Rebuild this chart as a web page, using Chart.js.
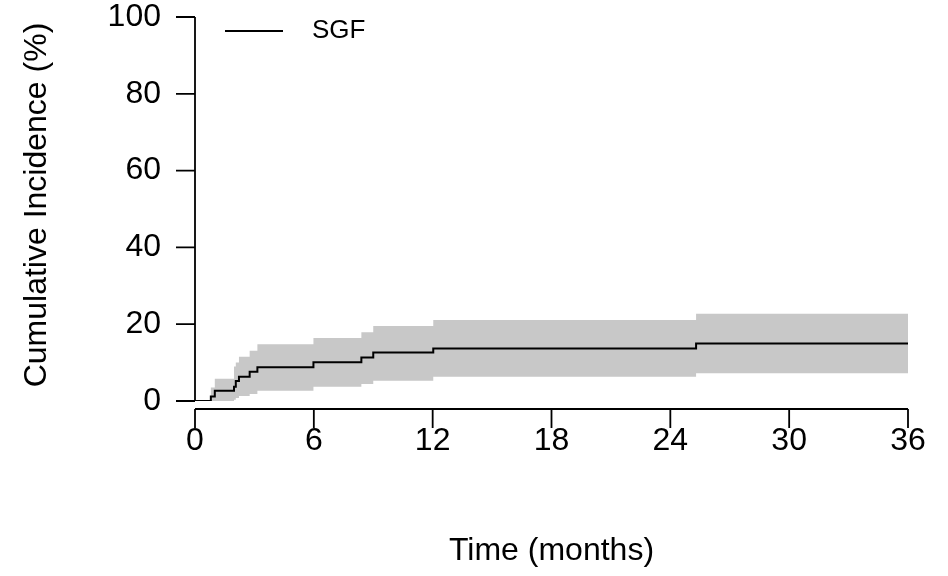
<!DOCTYPE html>
<html>
<head>
<meta charset="utf-8">
<script src="https://cdn.jsdelivr.net/npm/chart.js@4"></script>
<style>
  html, body { margin: 0; padding: 0; background: #ffffff; }
  #wrap { width: 948px; height: 576px; }
</style>
</head>
<body>
<div id="wrap"><canvas id="chart" width="948" height="576"></canvas></div>
<script>
// ── Data ───────────────────────────────────────────────────────────────────
// Step times in months; each value holds from that time onwards.
const TIMES    = [0, 0.8, 1.0, 1.97, 2.06, 2.22, 2.76, 3.15, 5.98, 8.4, 9.0, 12.03, 25.3, 36];
const ESTIMATE = [0, 1.2, 2.7, 3.7, 5.2, 6.3, 7.6, 8.8, 10.1, 11.3, 12.6, 13.7, 15.0, 15.0];
const LOWER    = [0, 0.0, 0.0, 0.3, 0.8, 1.3, 1.8, 2.7, 3.7, 4.4, 5.3, 6.3, 7.2, 7.2];
const UPPER    = [0, 3.5, 5.8, 9.0, 10.0, 11.5, 13.1, 14.8, 16.4, 17.9, 19.5, 21.1, 22.7, 22.7];

const X_TICKS = [0, 6, 12, 18, 24, 30, 36];
const Y_TICKS = [0, 20, 40, 60, 80, 100];

const SERIES_LABEL = "SGF";
const X_TITLE = "Time (months)";
const Y_TITLE = "Cumulative Incidence (%)";

const FONT = '"Liberation Sans", Arial, Helvetica, sans-serif';
const BAND_COLOR = "#c8c8c8";

function points(values) {
  return TIMES.map((t, i) => ({ x: t, y: values[i] }));
}

// ── Axes, titles and legend drawn R-style (offset x axis, outward ticks) ─────
const baseAxes = {
  id: "baseAxes",
  afterDraw(chart) {
    const { ctx, chartArea, scales } = chart;
    const xs = scales.x, ys = scales.y;
    const tickLen = 19;
    const xAxisY = chartArea.bottom + 8;

    ctx.save();
    ctx.strokeStyle = "#000";
    ctx.fillStyle = "#000";
    ctx.lineWidth = 1.8;

    // y axis
    ctx.beginPath();
    ctx.moveTo(chartArea.left, ys.getPixelForValue(Y_TICKS[0]));
    ctx.lineTo(chartArea.left, ys.getPixelForValue(Y_TICKS[Y_TICKS.length - 1]));
    Y_TICKS.forEach(v => {
      const y = ys.getPixelForValue(v);
      ctx.moveTo(chartArea.left, y);
      ctx.lineTo(chartArea.left - tickLen, y);
    });
    ctx.stroke();

    // x axis
    ctx.beginPath();
    ctx.moveTo(xs.getPixelForValue(X_TICKS[0]), xAxisY);
    ctx.lineTo(xs.getPixelForValue(X_TICKS[X_TICKS.length - 1]), xAxisY);
    X_TICKS.forEach(v => {
      const x = xs.getPixelForValue(v);
      ctx.moveTo(x, xAxisY);
      ctx.lineTo(x, xAxisY + tickLen);
    });
    ctx.stroke();

    // tick labels
    ctx.font = "32px " + FONT;
    ctx.textBaseline = "middle";
    ctx.textAlign = "right";
    Y_TICKS.forEach(v => {
      ctx.fillText(String(v), chartArea.left - 34, ys.getPixelForValue(v));
    });
    ctx.textAlign = "center";
    X_TICKS.forEach(v => {
      ctx.fillText(String(v), xs.getPixelForValue(v), xAxisY + 32);
    });

    // axis titles
    ctx.font = "32px " + FONT;
    ctx.fillText(X_TITLE, (chartArea.left + chartArea.right) / 2, 551);
    ctx.save();
    ctx.translate(37, 205);
    ctx.rotate(-Math.PI / 2);
    ctx.fillText(Y_TITLE, 0, 0);
    ctx.restore();

    // legend
    ctx.beginPath();
    ctx.moveTo(225, 31);
    ctx.lineTo(283, 31);
    ctx.stroke();
    ctx.font = "26px " + FONT;
    ctx.textAlign = "left";
    ctx.fillText(SERIES_LABEL, 312, 31);

    ctx.restore();
  },
};

new Chart(document.getElementById("chart"), {
  type: "line",
  data: {
    datasets: [
      {
        label: "estimate",
        data: points(ESTIMATE),
        stepped: "before",
        borderColor: "#000",
        borderWidth: 2,
        pointRadius: 0,
        fill: false,
        order: 0,
      },
      {
        label: "upper",
        data: points(UPPER),
        stepped: "before",
        borderWidth: 0,
        borderColor: "rgba(0,0,0,0)",
        backgroundColor: BAND_COLOR,
        pointRadius: 0,
        fill: "+1",
        order: 2,
      },
      {
        label: "lower",
        data: points(LOWER),
        stepped: "before",
        borderWidth: 0,
        borderColor: "rgba(0,0,0,0)",
        pointRadius: 0,
        fill: false,
        order: 1,
      },
    ],
  },
  options: {
    responsive: false,
    animation: false,
    layout: { padding: { left: 195, right: 40, top: 17, bottom: 175 } },
    plugins: {
      legend: { display: false },
      tooltip: { enabled: false },
    },
    scales: {
      x: { type: "linear", min: 0, max: 36, display: false },
      y: { type: "linear", min: 0, max: 100, display: false },
    },
  },
  plugins: [baseAxes],
});
</script>
</body>
</html>
